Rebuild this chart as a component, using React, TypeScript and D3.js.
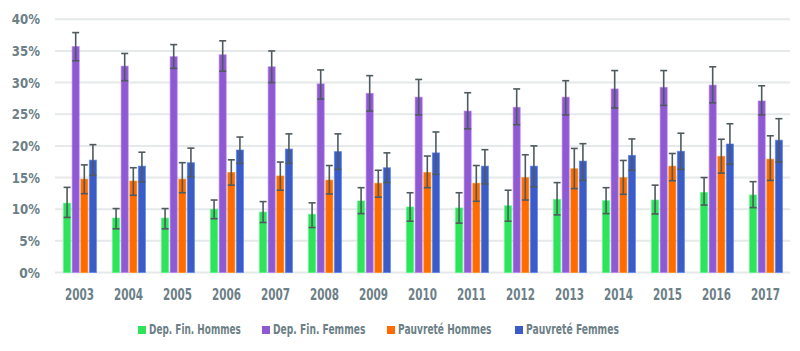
import * as d3 from "d3";
import React, { useEffect, useRef } from "react";

const years = ["2003", "2004", "2005", "2006", "2007", "2008", "2009", "2010", "2011", "2012", "2013", "2014", "2015", "2016", "2017"];
const seriesNames = ["Dep. Fin. Hommes", "Dep. Fin. Femmes", "Pauvreté Hommes", "Pauvreté Femmes"];
const seriesColors = ["#2fe35a", "#8e5ad2", "#ff6b00", "#3b5cc6"];
const yTicks = [0, 5, 10, 15, 20, 25, 30, 35, 40];

// values in %
const depHommes = [10.95, 8.6, 8.6, 10.0, 9.55, 9.2, 11.3, 10.35, 10.2, 10.55, 11.55, 11.35, 11.45, 12.65, 12.25];
const depHommesLow = [8.7, 6.9, 6.9, 8.5, 7.9, 7.1, 9.3, 8.1, 7.8, 8.1, 9.1, 9.3, 9.25, 10.65, 10.25];
const depHommesHigh = [13.45, 10.1, 10.1, 11.45, 11.2, 11.0, 13.4, 12.6, 12.6, 13.0, 14.2, 13.4, 13.8, 15.0, 14.35];

const depFemmes = [35.7, 32.6, 34.1, 34.4, 32.5, 29.8, 28.3, 27.7, 25.5, 26.1, 27.7, 29.0, 29.25, 29.6, 27.1];
const depFemmesLow = [33.45, 30.3, 32.25, 31.8, 30.0, 27.4, 25.5, 24.9, 22.7, 23.35, 24.9, 26.0, 26.4, 26.8, 24.9];
const depFemmesHigh = [37.9, 34.6, 36.0, 36.6, 35.0, 32.0, 31.1, 30.5, 28.4, 29.0, 30.3, 31.9, 31.9, 32.5, 29.5];

const pauvHommes = [14.75, 14.45, 14.75, 15.8, 15.25, 14.6, 14.1, 15.8, 14.1, 15.0, 16.4, 15.0, 16.8, 18.35, 17.9];
const pauvHommesLow = [12.45, 12.2, 12.6, 13.8, 13.0, 12.4, 11.9, 13.4, 11.25, 11.45, 13.25, 12.35, 14.5, 15.7, 14.55];
const pauvHommesHigh = [17.0, 16.55, 17.35, 17.8, 17.45, 16.9, 16.15, 18.4, 16.9, 18.6, 19.6, 17.7, 18.8, 21.05, 21.6];

const pauvFemmes = [17.75, 16.8, 17.35, 19.35, 19.5, 19.1, 16.55, 18.9, 16.8, 16.8, 17.6, 18.5, 19.15, 20.3, 20.9];
const pauvFemmesLow = [15.35, 14.3, 15.1, 17.25, 17.25, 16.3, 14.2, 15.5, 14.0, 13.55, 14.55, 16.15, 16.3, 17.1, 17.45];
const pauvFemmesHigh = [20.2, 19.0, 19.65, 21.4, 21.9, 21.9, 18.9, 22.2, 19.4, 20.0, 20.35, 21.1, 22.0, 23.5, 24.3];

const seriesValues = [depHommes, depFemmes, pauvHommes, pauvFemmes];
const seriesLow = [depHommesLow, depFemmesLow, pauvHommesLow, pauvFemmesLow];
const seriesHigh = [depHommesHigh, depFemmesHigh, pauvHommesHigh, pauvFemmesHigh];

const W = 800;
const H = 351;
const FONT = "'DejaVu Sans', sans-serif";
const TEXT = "#6d7f87";

// the reference font is very condensed: squeeze text horizontally to a target width
const digitW = 7.4;
const pctW = 13.4;

function squeeze(
  sel: d3.Selection<SVGTextElement, any, any, any>,
  pos: (d: any, i: number) => [number, number],
  width: (d: any, i: number) => number
) {
  sel.each(function (d, i) {
    const natural = this.getComputedTextLength() || 1;
    const k = width(d, i) / natural;
    const [px, py] = pos(d, i);
    d3.select(this).attr("transform", `translate(${px},${py}) scale(${k},1)`);
  });
}

const App: React.FC = () => {
  const ref = useRef<SVGSVGElement>(null);

  useEffect(() => {
    const svg = d3.select(ref.current);
    svg.selectAll("*").remove();

    const x = d3.scaleBand().domain(years).range([55, 790]).paddingInner(0).paddingOuter(0);
    const xInner = d3.scaleBand().domain(seriesNames).range([7, 43]).padding(0.18);
    const y = d3.scaleLinear().domain([0, 40]).range([272.5, 19.3]);

    // grid
    svg
      .append("g")
      .selectAll("line")
      .data(yTicks)
      .enter()
      .append("line")
      .attr("x1", 55)
      .attr("x2", 790)
      .attr("y1", (d) => y(d))
      .attr("y2", (d) => y(d))
      .attr("stroke", "#e5e9ea")
      .attr("stroke-width", 2);

    // y labels
    const yLabels = svg
      .append("g")
      .selectAll<SVGTextElement, number>("text")
      .data(yTicks)
      .enter()
      .append("text")
      .attr("text-anchor", "end")
      .attr("font-family", FONT)
      .attr("font-weight", "bold")
      .attr("font-size", 14.5)
      .attr("fill", TEXT)
      .text((d) => `${d}%`);
    squeeze(yLabels, (d) => [40, y(d) + 5], (d) => String(d).length * digitW + pctW);

    // x labels
    const xLabels = svg
      .append("g")
      .selectAll<SVGTextElement, string>("text")
      .data(years)
      .enter()
      .append("text")
      .attr("text-anchor", "middle")
      .attr("font-family", FONT)
      .attr("font-weight", "bold")
      .attr("font-size", 15)
      .attr("fill", TEXT)
      .text((d) => d);
    squeeze(xLabels, (d) => [x(d)! + x.bandwidth() / 2, 300], () => 29);

    seriesNames.forEach((name, si) => {
      const g = svg.append("g");
      const rows = years.map((yr, i) => ({
        yr,
        v: seriesValues[si][i],
        lo: seriesLow[si][i],
        hi: seriesHigh[si][i],
      }));
      const cx = (d: { yr: string }) => x(d.yr)! + xInner(name)! + xInner.bandwidth() / 2;

      g.selectAll("rect")
        .data(rows)
        .enter()
        .append("rect")
        .attr("x", (d) => x(d.yr)! + xInner(name)!)
        .attr("y", (d) => y(d.v))
        .attr("width", xInner.bandwidth())
        .attr("height", (d) => y(0) - y(d.v))
        .attr("fill", seriesColors[si])
        .attr("stroke", d3.color(seriesColors[si])!.brighter(0.8).formatHex())
        .attr("stroke-opacity", 0.6)
        .attr("stroke-width", 1);

      const eb = g.append("g").attr("stroke", "#4f5a5e").attr("stroke-width", 1.6);
      eb.selectAll("line.v")
        .data(rows)
        .enter()
        .append("line")
        .attr("class", "v")
        .attr("x1", cx)
        .attr("x2", cx)
        .attr("y1", (d) => y(d.lo))
        .attr("y2", (d) => y(d.hi));
      eb.selectAll("line.t")
        .data(rows)
        .enter()
        .append("line")
        .attr("class", "t")
        .attr("x1", (d) => cx(d) - 3.5)
        .attr("x2", (d) => cx(d) + 3.5)
        .attr("y1", (d) => y(d.hi))
        .attr("y2", (d) => y(d.hi));
      eb.selectAll("line.b")
        .data(rows)
        .enter()
        .append("line")
        .attr("class", "b")
        .attr("x1", (d) => cx(d) - 3.5)
        .attr("x2", (d) => cx(d) + 3.5)
        .attr("y1", (d) => y(d.lo))
        .attr("y2", (d) => y(d.lo));
    });

    // legend
    const legendX = [138, 262, 387, 515];
    const legendW = [92, 92.5, 93.5, 93];
    const legend = svg.append("g");
    legend
      .selectAll("rect")
      .data(seriesNames)
      .enter()
      .append("rect")
      .attr("x", (_, i) => legendX[i])
      .attr("y", 326)
      .attr("width", 8)
      .attr("height", 8)
      .attr("fill", (_, i) => seriesColors[i]);
    const legendText = legend
      .selectAll<SVGTextElement, string>("text")
      .data(seriesNames)
      .enter()
      .append("text")
      .attr("font-family", FONT)
      .attr("font-weight", "bold")
      .attr("font-size", 13.5)
      .attr("fill", TEXT)
      .text((d) => d);
    squeeze(legendText, (_, i) => [legendX[i] + 11, 334], (_, i) => legendW[i]);
  }, []);

  return <svg ref={ref} width={W} height={H} style={{ display: "block", position: "absolute", left: 0, top: 0 }} />;
};

export default App;
